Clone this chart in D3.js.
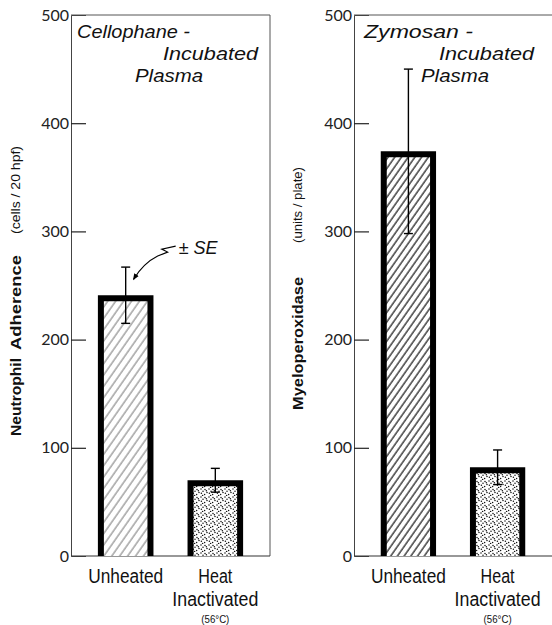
<!DOCTYPE html>
<html>
<head>
<meta charset="utf-8">
<script src="https://cdn.jsdelivr.net/npm/d3@7"></script>
<style>
  body { margin: 0; background: #fff; }
  svg { display: block; }
</style>
</head>
<body>
<svg id="chart" width="552" height="625"></svg>
<script>
// data
const categories = ["Unheated", "Heat Inactivated"];
const categoryLines = [["Unheated"], ["Heat", "Inactivated", "(56°C)"]];
const yTicks = [0, 100, 200, 300, 400, 500];
const adherenceMean = [241, 70];
const adherenceSE = [26, 11];
const mpoMean = [374, 82];
const mpoSE = [76, 16];

const svg = d3.select("#chart");
const defs = svg.append("defs");

// light hatch (left unheated)
const hatchLight = defs.append("pattern")
    .attr("id", "hatchLight")
    .attr("patternUnits", "userSpaceOnUse")
    .attr("width", 6.5).attr("height", 6.5)
    .attr("patternTransform", "rotate(35)");
hatchLight.append("rect").attr("width", 6.5).attr("height", 6.5).attr("fill", "#fff");
hatchLight.append("line")
    .attr("x1", 1).attr("y1", 0).attr("x2", 1).attr("y2", 6.5)
    .attr("stroke", "#666").attr("stroke-width", 0.9);

// darker hatch (right unheated)
const hatchDark = defs.append("pattern")
    .attr("id", "hatchDark")
    .attr("patternUnits", "userSpaceOnUse")
    .attr("width", 5.5).attr("height", 5.5)
    .attr("patternTransform", "rotate(35)");
hatchDark.append("rect").attr("width", 5.5).attr("height", 5.5).attr("fill", "#fff");
hatchDark.append("line")
    .attr("x1", 1).attr("y1", 0).attr("x2", 1).attr("y2", 5.5)
    .attr("stroke", "#111").attr("stroke-width", 1.2);

// stipple
const stipple = defs.append("pattern")
    .attr("id", "stipple")
    .attr("patternUnits", "userSpaceOnUse")
    .attr("width", 8).attr("height", 8);
stipple.append("rect").attr("width", 8).attr("height", 8).attr("fill", "#fff");
[[1, 1], [5, 1.6], [3, 3.2], [7, 4.4], [1.4, 5.2], [4.6, 6.6], [2.6, 7.4], [6.4, 2.8]]
    .forEach(p => stipple.append("circle")
        .attr("cx", p[0]).attr("cy", p[1]).attr("r", 0.75).attr("fill", "#111"));

const y = d3.scaleLinear().domain([0, 500]).range([556, 15]);

function drawPanel(opt) {
    const x = d3.scaleBand()
        .domain(categories)
        .range([opt.x0, opt.x1])
        .paddingInner(0.38)
        .paddingOuter(0.3);

    const g = svg.append("g");

    // frame
    g.append("line")
        .attr("x1", opt.x0).attr("x2", opt.x1)
        .attr("y1", y(500)).attr("y2", y(500))
        .attr("stroke", "#555").attr("stroke-width", 1);
    if (opt.rightBorder) {
        g.append("line")
            .attr("x1", opt.x1).attr("x2", opt.x1)
            .attr("y1", y(500)).attr("y2", y(0))
            .attr("stroke", "#555").attr("stroke-width", 1);
    }

    // y axis
    const axis = g.append("g")
        .attr("transform", `translate(${opt.x0},0)`)
        .call(d3.axisRight(y).tickValues(yTicks).tickSize(15).tickFormat(""));
    axis.select(".domain").attr("stroke", "#444").attr("stroke-width", 1);
    axis.selectAll(".tick line")
        .attr("stroke", "#222").attr("stroke-width", 1.2)
        .attr("display", d => (d === 0 || d === 500) ? "none" : null);

    g.selectAll(".ylab")
        .data(yTicks)
        .enter().append("text")
        .attr("x", opt.x0 - 2)
        .attr("y", d => y(d) + 5.5)
        .attr("text-anchor", "end")
        .style("font-family", "Lato, 'Liberation Sans', sans-serif")
        .style("font-size", "16px")
        .attr("fill", "#222")
        .text(d => d);

    // x baseline
    g.append("line")
        .attr("x1", opt.x0).attr("x2", opt.x1)
        .attr("y1", y(0)).attr("y2", y(0))
        .attr("stroke", "#333").attr("stroke-width", 1.2);

    // bars
    const bw = x.bandwidth();
    const bars = g.selectAll(".bar")
        .data(categories)
        .enter().append("g");

    bars.append("rect")
        .attr("x", d => x(d) + 3)
        .attr("y", (d, i) => y(opt.mean[i]) + 3)
        .attr("width", bw - 6)
        .attr("height", (d, i) => y(0) - y(opt.mean[i]) - 3)
        .attr("fill", (d, i) => `url(#${opt.fills[i]})`);

    bars.append("path")
        .attr("d", (d, i) => `M${x(d) + 3},${y(0)} V${y(opt.mean[i]) + 3} H${x(d) + bw - 3} V${y(0)}`)
        .attr("fill", "none")
        .attr("stroke", "#000")
        .attr("stroke-width", 6);

    // error bars
    const cx = d => x(d) + bw / 2;
    bars.append("line")
        .attr("x1", cx).attr("x2", cx)
        .attr("y1", (d, i) => y(opt.mean[i] - opt.se[i]))
        .attr("y2", (d, i) => y(opt.mean[i] + opt.se[i]))
        .attr("stroke", "#000").attr("stroke-width", 1.4);
    [1, -1].forEach(s => {
        bars.append("line")
            .attr("x1", d => cx(d) - 4.5).attr("x2", d => cx(d) + 4.5)
            .attr("y1", (d, i) => y(opt.mean[i] + s * opt.se[i]))
            .attr("y2", (d, i) => y(opt.mean[i] + s * opt.se[i]))
            .attr("stroke", "#000").attr("stroke-width", 1.4);
    });

    // category labels
    const lineY = [583, 606, 623];
    const lineSize = [20, 20, 11];
    const lineLen = { "Unheated": 75, "Heat": 34, "Inactivated": 86, "(56°C)": 28 };
    categories.forEach((c, i) => {
        categoryLines[i].forEach((t, j) => {
            g.append("text")
                .attr("x", cx(c))
                .attr("y", lineY[j])
                .attr("text-anchor", "middle")
                .attr("textLength", lineLen[t])
                .attr("lengthAdjust", "spacingAndGlyphs")
                .style("font-family", "'Liberation Sans Narrow', 'Arial Narrow', 'Liberation Sans', sans-serif")
                .style("font-size", lineSize[j] + "px")
                .attr("fill", "#111")
                .text(t);
        });
    });

    // panel title
    opt.title.forEach(t => {
        g.append("text")
            .attr("x", t.x).attr("y", t.y)
            .attr("textLength", t.len)
            .attr("lengthAdjust", "spacingAndGlyphs")
            .style("font-family", "'Liberation Sans', Arial, sans-serif")
            .style("font-style", "italic")
            .style("font-size", "19px")
            .attr("fill", "#111")
            .text(t.text);
    });

    // y axis title (rotated)
    opt.ytitle.forEach(t => {
        g.append("text")
            .attr("transform", `translate(${t.x},${t.y}) rotate(-90)`)
            .attr("textLength", t.len)
            .attr("lengthAdjust", "spacingAndGlyphs")
            .style("font-family", "'Liberation Sans', Arial, sans-serif")
            .style("font-weight", t.bold ? "bold" : "normal")
            .style("font-size", t.size + "px")
            .attr("fill", "#111")
            .text(t.text);
    });

    return { x, g, cx };
}

const left = drawPanel({
    x0: 71, x1: 270, rightBorder: true,
    mean: adherenceMean, se: adherenceSE,
    fills: ["hatchLight", "stipple"],
    title: [
        { text: "Cellophane -", x: 77, y: 38, len: 113 },
        { text: "Incubated", x: 163, y: 60, len: 95 },
        { text: "Plasma", x: 135, y: 82, len: 68 }
    ],
    ytitle: [
        { text: "Neutrophil", x: 21, y: 436, len: 78, bold: true, size: 15 },
        { text: "Adherence", x: 21, y: 350, len: 95, bold: true, size: 15 },
        { text: "(cells / 20 hpf)", x: 20, y: 234, len: 88, bold: false, size: 13 }
    ]
});

drawPanel({
    x0: 354, x1: 552, rightBorder: false,
    mean: mpoMean, se: mpoSE,
    fills: ["hatchDark", "stipple"],
    title: [
        { text: "Zymosan -", x: 364, y: 38, len: 109 },
        { text: "Incubated", x: 439, y: 60, len: 95 },
        { text: "Plasma", x: 421, y: 82, len: 68 }
    ],
    ytitle: [
        { text: "Myeloperoxidase", x: 303, y: 410, len: 133, bold: true, size: 15 },
        { text: "(units / plate)", x: 302, y: 243, len: 76, bold: false, size: 13 }
    ]
});

// "± SE" annotation pointing at the first error bar
const ex = left.cx(categories[0]);
const ey = y(adherenceMean[0] + adherenceSE[0]);

defs.append("marker")
    .attr("id", "arrow")
    .attr("viewBox", "0 0 10 10")
    .attr("refX", 8).attr("refY", 5)
    .attr("markerWidth", 6).attr("markerHeight", 6)
    .attr("orient", "auto")
    .append("path")
    .attr("d", "M0,1 L10,5 L0,9 Z")
    .attr("fill", "#000");

left.g.append("path")
    .attr("d", `M${ex + 50},${ey - 21} L${ex + 36},${ey - 18} L${ex + 42},${ey - 15} L${ex + 32},${ey - 11} Q${ex + 18},${ey - 4} ${ex + 8},${ey + 12}`)
    .attr("fill", "none")
    .attr("stroke", "#000")
    .attr("stroke-width", 1.1)
    .attr("marker-end", "url(#arrow)");

left.g.append("text")
    .attr("x", ex + 53)
    .attr("y", ey - 13)
    .style("font-family", "'Liberation Sans', Arial, sans-serif")
    .style("font-style", "italic")
    .style("font-size", "18px")
    .attr("fill", "#111")
    .text("± SE");
</script>
</body>
</html>
